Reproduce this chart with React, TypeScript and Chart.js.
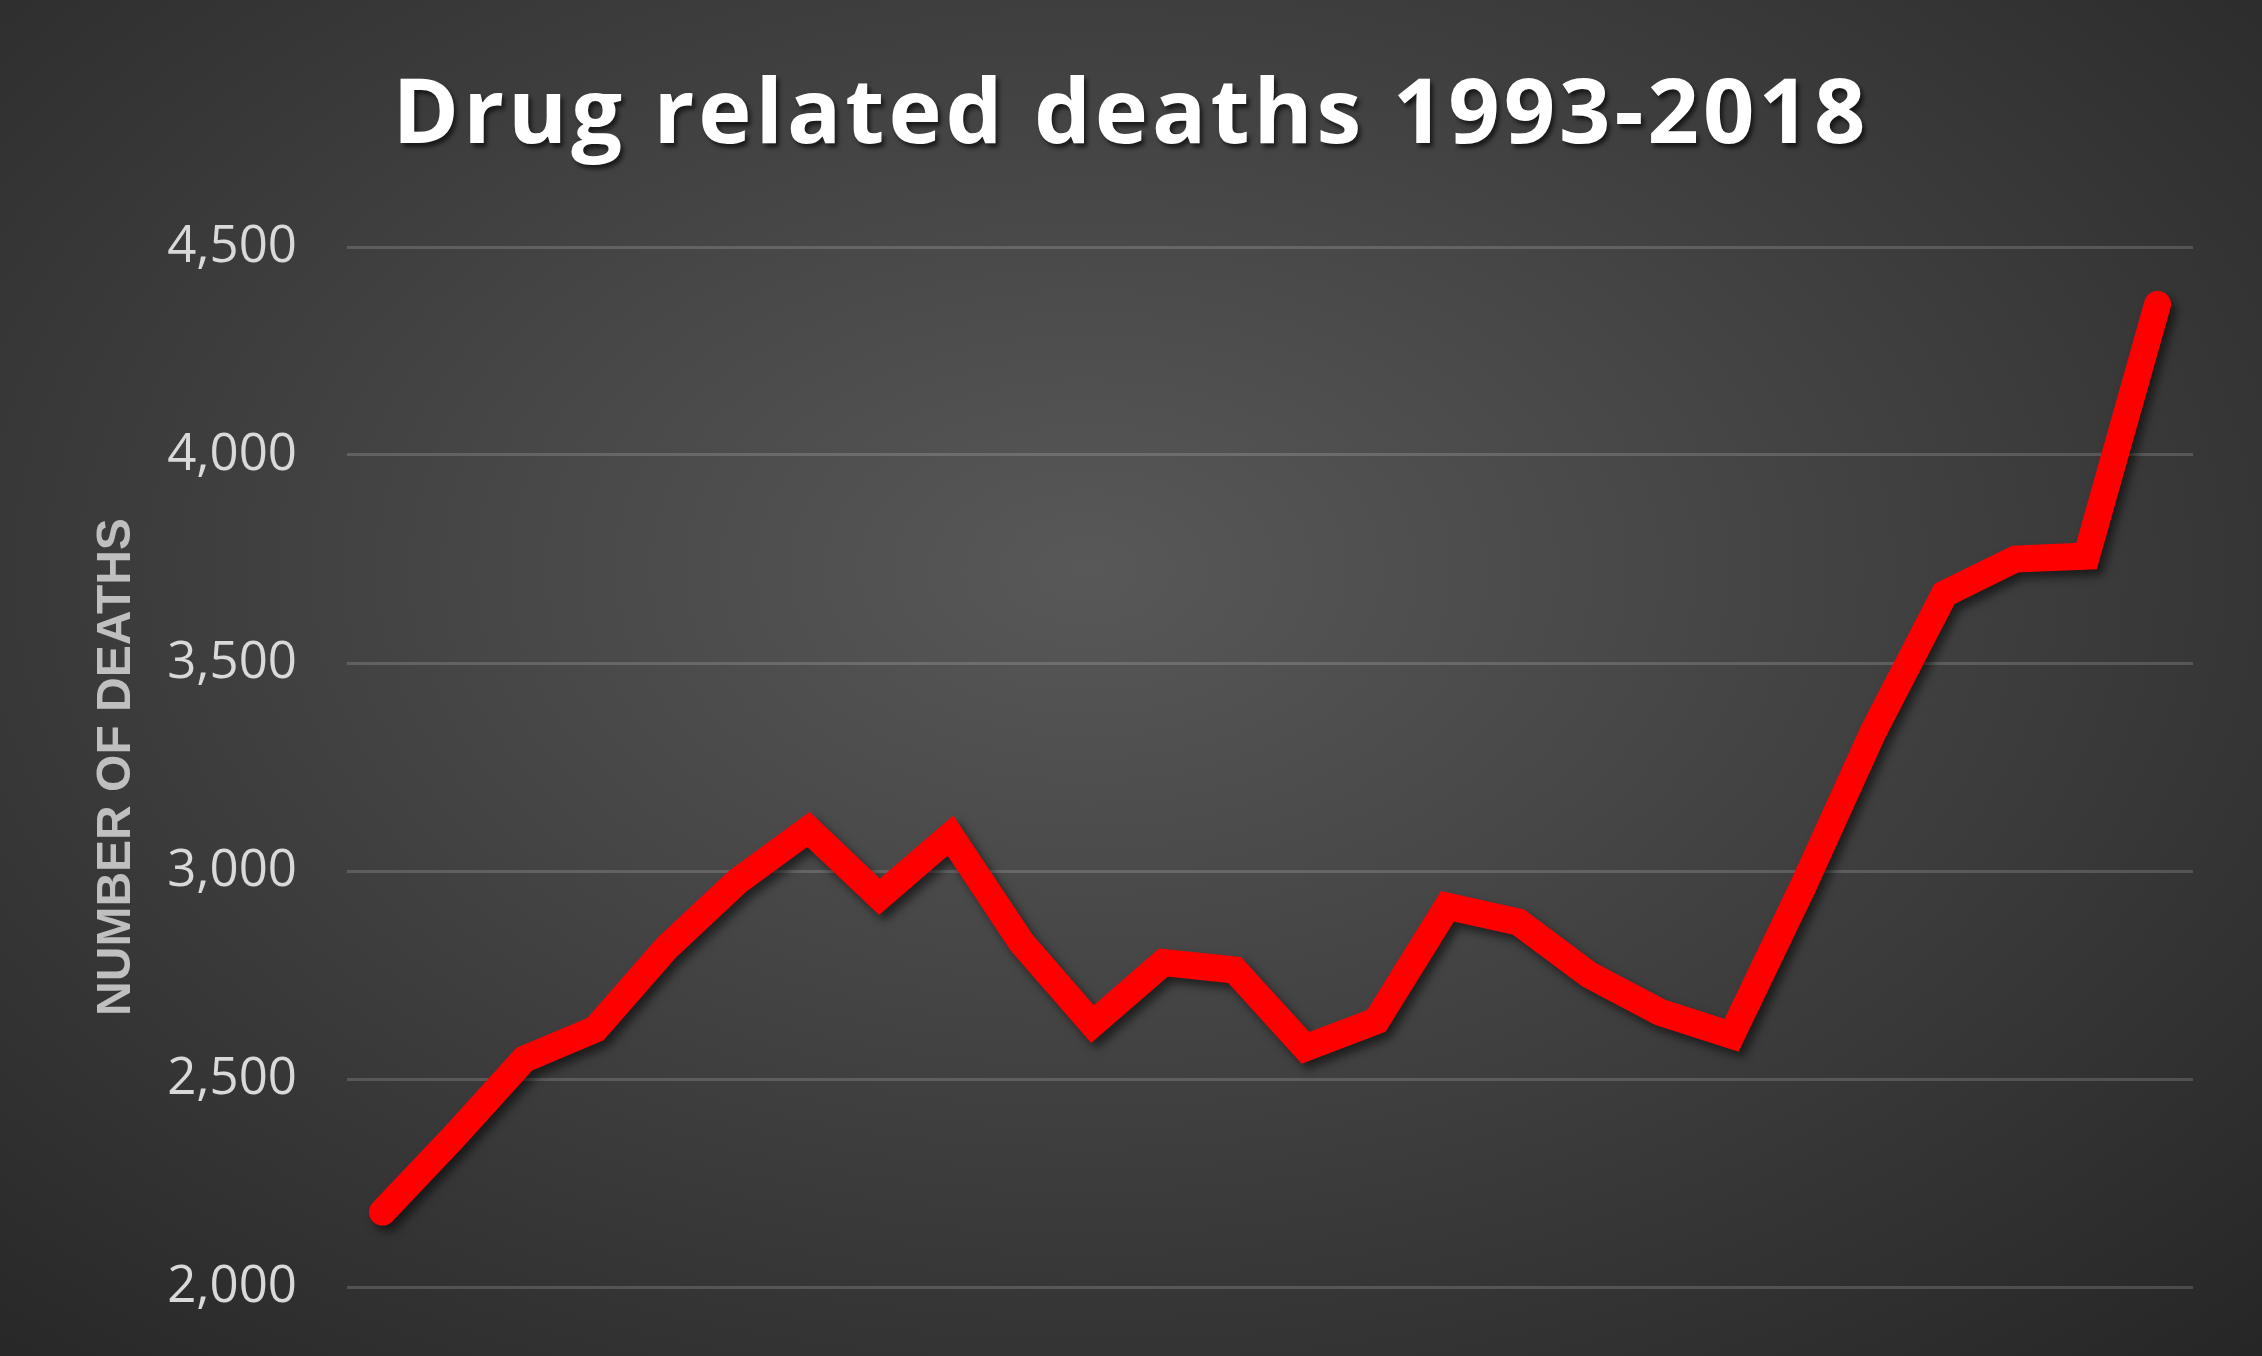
import { useEffect, useRef } from "react"
import Chart from "chart.js/auto"

const years = [
  "1993", "1994", "1995", "1996", "1997", "1998", "1999", "2000", "2001",
  "2002", "2003", "2004", "2005", "2006", "2007", "2008", "2009", "2010",
  "2011", "2012", "2013", "2014", "2015", "2016", "2017", "2018",
]

const deaths = [
  2180, 2360, 2548, 2620, 2815, 2975, 3100, 2938, 3085,
  2828, 2632, 2780, 2762, 2575, 2640, 2915, 2877, 2750,
  2660, 2605, 2960, 3336, 3666, 3750, 3757, 4362,
]

const yMin = 2000
const yMax = 4500
const yStep = 500

const chartTitle = "Drug related deaths 1993-2018"
const yTitle = "NUMBER OF DEATHS"

const W = 2262
const H = 1356

document.body.style.margin = "0"

// soft drop shadow under the red line
const lineShadow = {
  id: "lineShadow",
  beforeDatasetDraw(chart: Chart) {
    const ctx = chart.ctx
    ctx.save()
    ctx.shadowColor = "rgba(0, 0, 0, 0.55)"
    ctx.shadowBlur = 10
    ctx.shadowOffsetX = 5
    ctx.shadowOffsetY = 6
  },
  afterDatasetDraw(chart: Chart) {
    chart.ctx.restore()
  },
}

function DeathsChart() {
  const chartRef = useRef<HTMLCanvasElement>(null)
  const chartInstance = useRef<Chart | null>(null)

  useEffect(() => {
    if (!chartRef.current) return
    if (chartInstance.current) chartInstance.current.destroy()

    chartInstance.current = new Chart(chartRef.current, {
      type: "line",
      data: {
        labels: years,
        datasets: [
          {
            data: deaths,
            borderColor: "#ff0000",
            borderWidth: 27,
            borderCapStyle: "round",
            borderJoinStyle: "miter",
            pointRadius: 0,
            tension: 0,
            fill: false,
          },
        ],
      },
      options: {
        animation: false,
        responsive: false,
        devicePixelRatio: 1,
        layout: {
          padding: { top: 247, right: 69, bottom: 69, left: 0 },
        },
        plugins: {
          legend: { display: false },
          tooltip: { enabled: false },
          title: { display: false },
        },
        scales: {
          x: {
            display: false,
            offset: true,
          },
          y: {
            min: yMin,
            max: yMax,
            afterFit: (scale) => {
              scale.width = 347
            },
            border: { display: false },
            grid: {
              color: "rgba(255, 255, 255, 0.16)",
              lineWidth: 3,
              // invisible tick marks keep the labels away from the plot
              drawTicks: true,
              tickLength: 50,
              tickColor: "rgba(0, 0, 0, 0)",
            },
            ticks: {
              stepSize: yStep,
              padding: 0,
              color: "#d9d9d9",
              font: { family: "'Open Sans', sans-serif", size: 51 },
              callback: (v) => Number(v).toLocaleString("en-US"),
            },
            title: {
              display: true,
              text: yTitle,
              color: "#bfbfbf",
              font: { family: "'Liberation Sans', Arial, sans-serif", size: 48, weight: "bold" },
              padding: { top: 88, bottom: 0 },
            },
          },
        },
      },
      plugins: [lineShadow],
    })

    return () => {
      if (chartInstance.current) {
        chartInstance.current.destroy()
        chartInstance.current = null
      }
    }
  }, [])

  return (
    <canvas
      ref={chartRef}
      width={W}
      height={H}
      style={{ display: "block", width: W, height: H }}
    ></canvas>
  )
}

export default function App() {
  return (
    <div
      style={{
        position: "relative",
        width: W,
        height: H,
        background:
          "radial-gradient(ellipse 75% 80% at 48% 42%, #585858 0%, #474747 35%, #353535 70%, #262626 100%)",
        overflow: "hidden",
      }}
    >
      <div
        style={{
          position: "absolute",
          top: 48,
          left: 0,
          width: "100%",
          textAlign: "center",
          color: "#ffffff",
          fontFamily: "'Open Sans', sans-serif",
          fontWeight: 700,
          fontSize: 90,
          letterSpacing: 4,
          lineHeight: "120px",
          textShadow: "3px 4px 4px rgba(0,0,0,0.6)",
        }}
      >
        {chartTitle}
      </div>
      <div style={{ position: "absolute", left: 0, top: 0 }}>
        <DeathsChart />
      </div>
    </div>
  )
}
